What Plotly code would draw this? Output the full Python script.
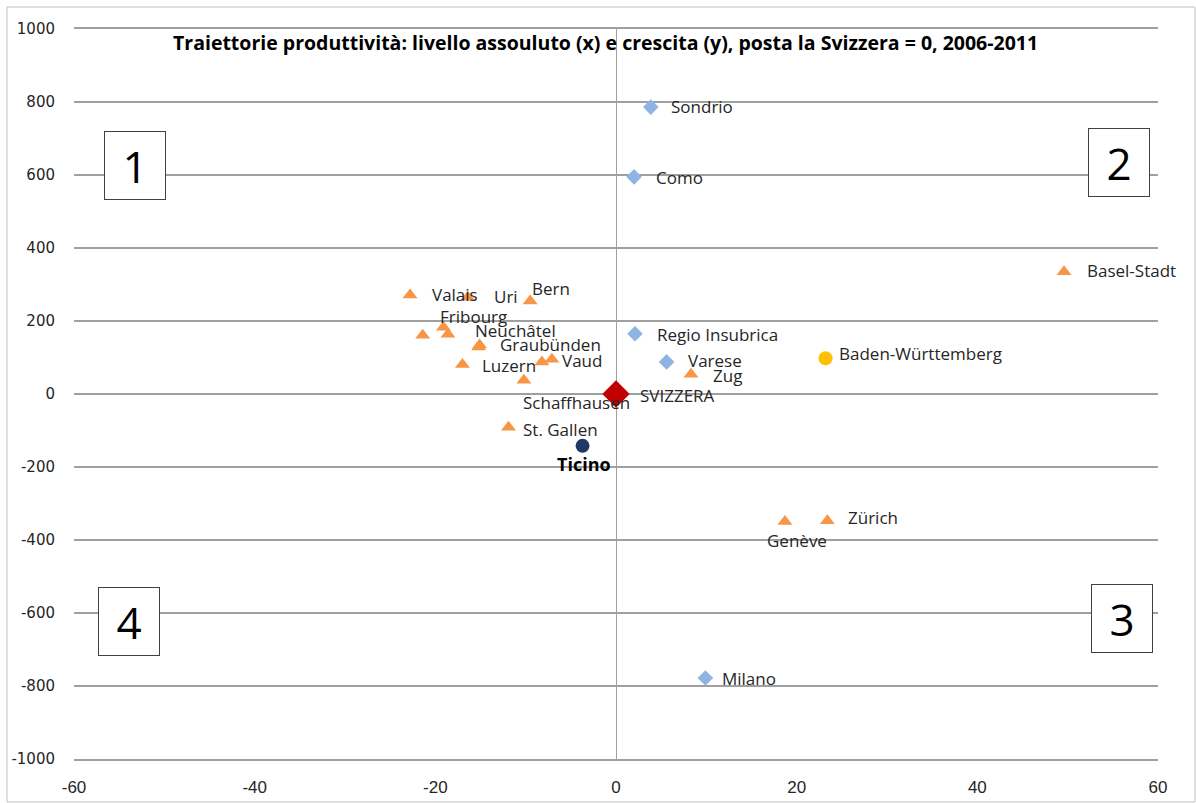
import plotly.graph_objects as go

# Swiss cantons (x: productivity level gap, y: productivity growth gap; Switzerland = 0)
canton_names = ["Valais", "Uri", "Bern", "Fribourg", "", "Neuchâtel", "Graubünden", "",
                "Luzern", "", "Vaud", "Schaffhausen", "St. Gallen", "Zug", "Zürich",
                "Genève", "Basel-Stadt"]
canton_x = [-22.8, -16.4, -9.5, -19.1, -21.4, -18.6, -15.2, -15.1,
            -17.0, -8.2, -7.1, -10.2, -11.9, 8.3, 23.4, 18.7, 49.6]
canton_y = [271, 265, 255, 183, 161, 164, 129, 134,
            81, 88, 95, 38, -91, 54, -347, -349, 335]

# Lombardy provinces and Regio Insubrica
lomb_names = ["Sondrio", "Como", "Regio Insubrica", "Varese", "Milano"]
lomb_x = [3.85, 2.0, 2.1, 5.6, 9.9]
lomb_y = [786, 595, 165, 88, -778]

ch_name, ch_x, ch_y = "SVIZZERA", 0.0, 0.0
ti_name, ti_x, ti_y = "Ticino", -3.7, -142
bw_name, bw_x, bw_y = "Baden-Württemberg", 23.2, 98

x_ticks = [-60, -40, -20, 0, 20, 40, 60]
y_ticks = [-1000, -800, -600, -400, -200, 0, 200, 400, 600, 800, 1000]
quadrants = ["1", "2", "3", "4"]
title_text = ("Traiettorie produttività: livello assouluto (x) e crescita (y), "
              "posta la Svizzera = 0, 2006-2011")

# label placement: (xanchor, xshift px, yshift px)
label_pos = {
    "Valais": ("left", 20, 1), "Uri": ("left", 24, 1), "Bern": ("left", 0, 12),
    "Fribourg": ("left", -5, 11), "Neuchâtel": ("left", 25, 4),
    "Graubünden": ("left", 19, 2), "Luzern": ("left", 18, -1),
    "Vaud": ("left", 8, -1), "Schaffhausen": ("left", -3, -22),
    "St. Gallen": ("left", 12, -2), "Zug": ("left", 20, -1),
    "Zürich": ("left", 19, 3), "Genève": ("center", 12, -19),
    "Basel-Stadt": ("left", 21, 1),
    "Sondrio": ("left", 18, 1), "Como": ("left", 20, -1),
    "Regio Insubrica": ("left", 20, -1), "Varese": ("left", 19, 1),
    "Milano": ("left", 15, -1),
    "SVIZZERA": ("left", 22, -1), "Ticino": ("center", 1, -18),
    "Baden-Württemberg": ("left", 11, 5),
}

ORANGE = "#F79646"
LIGHTBLUE = "#8DB4E2"
RED = "#C00000"
NAVY = "#1F3864"
YELLOW = "#FFC000"
GRID = "#A0A0A0"
LABEL_FONT = "Open Sans"

fig = go.Figure()
fig.add_trace(go.Scatter(x=canton_x, y=canton_y, mode="markers",
                         marker=dict(symbol="triangle-up", size=13, color=ORANGE),
                         hovertext=canton_names, showlegend=False))
fig.add_trace(go.Scatter(x=lomb_x, y=lomb_y, mode="markers",
                         marker=dict(symbol="diamond", size=12, color=LIGHTBLUE),
                         hovertext=lomb_names, showlegend=False))
fig.add_trace(go.Scatter(x=[bw_x], y=[bw_y], mode="markers",
                         marker=dict(symbol="circle", size=14, color=YELLOW),
                         hovertext=[bw_name], showlegend=False))
fig.add_trace(go.Scatter(x=[ti_x], y=[ti_y], mode="markers",
                         marker=dict(symbol="circle", size=14, color=NAVY),
                         hovertext=[ti_name], showlegend=False))
fig.add_trace(go.Scatter(x=[ch_x], y=[ch_y], mode="markers",
                         marker=dict(symbol="diamond", size=21, color=RED),
                         hovertext=[ch_name], showlegend=False))

annotations = []
all_points = (list(zip(canton_names, canton_x, canton_y))
              + list(zip(lomb_names, lomb_x, lomb_y))
              + [(ch_name, ch_x, ch_y), (ti_name, ti_x, ti_y), (bw_name, bw_x, bw_y)])
for name, x, y in all_points:
    if not name:
        continue
    anchor, dx, dy = label_pos[name]
    bold = name == ti_name
    annotations.append(dict(
        x=x, y=y, xref="x", yref="y", text=f"<b>{name}</b>" if bold else name,
        showarrow=False, xanchor=anchor, yanchor="middle", xshift=dx, yshift=dy,
        font=dict(family=LABEL_FONT, size=18 if bold else 17,
                  color="#000000" if bold else "#262626")))

# title inside the plot area
annotations.append(dict(
    x=0.49, y=0.982, xref="paper", yref="paper", text=f"<b>{title_text}</b>",
    showarrow=False, xanchor="center", yanchor="middle",
    font=dict(family=LABEL_FONT, size=19.5, color="#000000")))

# numbered quadrant boxes
box_pos = {"1": (0.0563, 0.8130), "2": (0.9640, 0.8171),
           "3": (0.9668, 0.1918), "4": (0.0503, 0.1890)}
for q in quadrants:
    bx, by = box_pos[q]
    annotations.append(dict(
        x=bx, y=by, xref="paper", yref="paper", text=q, showarrow=False,
        xanchor="center", yanchor="middle", width=60, height=67,
        bordercolor="#404040", borderwidth=1, borderpad=0, bgcolor="white",
        font=dict(family=LABEL_FONT, size=44, color="#000000")))

fig.update_layout(
    width=1196, height=803,
    margin=dict(l=74, r=38, t=29, b=44, autoexpand=False),
    paper_bgcolor="white", plot_bgcolor="white",
    annotations=annotations,
    shapes=[dict(type="rect", xref="paper", yref="paper",
                 x0=-0.0618, x1=1.0341, y0=-0.0589, y1=1.0301,
                 line=dict(color="#BFBFBF", width=1), fillcolor="rgba(0,0,0,0)",
                 layer="below")],
)
fig.update_xaxes(
    range=[-60, 60], tickvals=x_ticks, ticktext=[str(v) for v in x_ticks],
    showgrid=False, zeroline=True, zerolinecolor=GRID, zerolinewidth=1,
    showline=True, mirror=True, linecolor=GRID, linewidth=2,
    ticks="", ticklabelstandoff=12, automargin=False,
    tickfont=dict(family="Liberation Sans Narrow, Liberation Sans", size=17, color="#262626"),
)
fig.update_yaxes(
    range=[-1000, 1000], tickvals=y_ticks, ticktext=[str(v) for v in y_ticks],
    showgrid=True, gridcolor=GRID, gridwidth=2,
    zeroline=True, zerolinecolor=GRID, zerolinewidth=2,
    showline=False, ticks="", ticklabelstandoff=18, automargin=False,
    tickfont=dict(family="DejaVu Sans", size=15, color="#262626"),
)

fig.write_html("out.html")
